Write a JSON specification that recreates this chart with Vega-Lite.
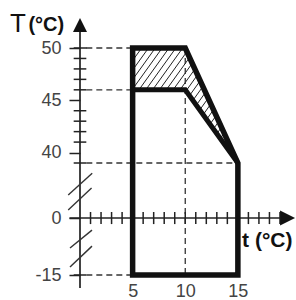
{
  "$schema": "https://vega.github.io/schema/vega-lite/v6.json",
  "width": 296,
  "height": 300,
  "padding": 0,
  "autosize": {"type": "none"},
  "background": "white",
  "config": {"view": {"stroke": null}},
  "datasets": {
    "hatch": [
      {"x": 5, "y": 48.8, "x2": 5.857, "y2": 50},
      {"x": 5, "y": 47.89, "x2": 6.507, "y2": 50},
      {"x": 5, "y": 46.98, "x2": 7.157, "y2": 50},
      {"x": 5, "y": 46.07, "x2": 7.807, "y2": 50},
      {"x": 5.6, "y": 46, "x2": 8.457, "y2": 50},
      {"x": 6.25, "y": 46, "x2": 9.107, "y2": 50},
      {"x": 6.9, "y": 46, "x2": 9.757, "y2": 50},
      {"x": 7.55, "y": 46, "x2": 10.158, "y2": 49.652},
      {"x": 8.2, "y": 46, "x2": 10.411, "y2": 49.096},
      {"x": 8.85, "y": 46, "x2": 10.664, "y2": 48.539},
      {"x": 9.5, "y": 46, "x2": 10.917, "y2": 47.983},
      {"x": 10.075, "y": 45.895, "x2": 11.169, "y2": 47.428},
      {"x": 10.4, "y": 45.44, "x2": 11.422, "y2": 46.871},
      {"x": 10.725, "y": 44.985, "x2": 11.675, "y2": 46.315},
      {"x": 11.05, "y": 44.53, "x2": 11.928, "y2": 45.759},
      {"x": 11.375, "y": 44.075, "x2": 12.181, "y2": 45.202},
      {"x": 11.7, "y": 43.62, "x2": 12.433, "y2": 44.647},
      {"x": 12.025, "y": 43.165, "x2": 12.686, "y2": 44.091},
      {"x": 12.35, "y": 42.71, "x2": 12.939, "y2": 43.534},
      {"x": 12.675, "y": 42.255, "x2": 13.192, "y2": 42.978},
      {"x": 13.0, "y": 41.8, "x2": 13.444, "y2": 42.422},
      {"x": 13.325, "y": 41.345, "x2": 13.697, "y2": 41.866},
      {"x": 13.65, "y": 40.89, "x2": 13.95, "y2": 41.31},
      {"x": 13.975, "y": 40.435, "x2": 14.203, "y2": 40.753}
    ],
    "dashed": [
      {"x": 0.6, "y": 50, "x2": 5, "y2": 50},
      {"x": 0.6, "y": 46, "x2": 5, "y2": 46},
      {"x": 0.6, "y": 39, "x2": 15, "y2": 39},
      {"x": 0.6, "y": -15, "x2": 5, "y2": -15},
      {"x": 10, "y": 50, "x2": 10, "y2": -15}
    ],
    "axes": [
      {"x": 0, "y": -18.4, "x2": 0, "y2": 51.6},
      {"x": -1, "y": 0, "x2": 19, "y2": 0}
    ],
    "ticks": [
      {"x": -0.6, "x2": 0.65, "y": 50, "y2": 50},
      {"x": -0.6, "x2": 0.6, "y": 49, "y2": 49},
      {"x": -0.6, "x2": 0.6, "y": 48, "y2": 48},
      {"x": -0.6, "x2": 0.6, "y": 47, "y2": 47},
      {"x": -0.6, "x2": 0.6, "y": 46, "y2": 46},
      {"x": -0.6, "x2": 0.6, "y": 44, "y2": 44},
      {"x": -0.6, "x2": 0.6, "y": 43, "y2": 43},
      {"x": -0.6, "x2": 0.6, "y": 42, "y2": 42},
      {"x": -0.6, "x2": 0.6, "y": 41, "y2": 41},
      {"x": -0.6, "x2": 0.6, "y": 39, "y2": 39},
      {"x": -0.6, "x2": 0.6, "y": -15, "y2": -15},
      {"x": 1, "x2": 1, "y": -1.6, "y2": 4.25},
      {"x": 2, "x2": 2, "y": -1.6, "y2": 4.25},
      {"x": 3, "x2": 3, "y": -1.6, "y2": 4.25},
      {"x": 4, "x2": 4, "y": -1.6, "y2": 4.25},
      {"x": 5, "x2": 5, "y": -1.6, "y2": 4.25},
      {"x": 6, "x2": 6, "y": -1.6, "y2": 4.25},
      {"x": 7, "x2": 7, "y": -1.6, "y2": 4.25},
      {"x": 8, "x2": 8, "y": -1.6, "y2": 4.25},
      {"x": 9, "x2": 9, "y": -1.6, "y2": 4.25},
      {"x": 10, "x2": 10, "y": -1.6, "y2": 4.25},
      {"x": 11, "x2": 11, "y": -1.6, "y2": 4.25},
      {"x": 12, "x2": 12, "y": -1.6, "y2": 4.25},
      {"x": 13, "x2": 13, "y": -1.6, "y2": 4.25},
      {"x": 14, "x2": 14, "y": -1.6, "y2": 4.25},
      {"x": 15, "x2": 15, "y": -1.6, "y2": 4.25},
      {"x": 16, "x2": 16, "y": -1.6, "y2": 4.25},
      {"x": 17, "x2": 17, "y": -1.6, "y2": 4.25},
      {"x": 18, "x2": 18, "y": -1.6, "y2": 4.25},
      {"x": 19, "x2": 19, "y": -1.6, "y2": 4.25}
    ],
    "breaks": [
      {"x": -1.12, "y": 16.3, "x2": 1.16, "y2": 31.8},
      {"x": -1.12, "y": 5.7, "x2": 1.1, "y2": 21.2},
      {"x": -0.95, "y": -7.9, "x2": 1.14, "y2": -3.2},
      {"x": -0.95, "y": -12.9, "x2": 1.14, "y2": -7.4}
    ],
    "outer": [
      {"x": 5, "y": 50, "o": 1},
      {"x": 10, "y": 50, "o": 2},
      {"x": 15, "y": 39, "o": 3},
      {"x": 15, "y": -15, "o": 4},
      {"x": 5, "y": -15, "o": 5},
      {"x": 5, "y": 50, "o": 6}
    ],
    "inner": [
      {"x": 5, "y": 46, "o": 1},
      {"x": 10, "y": 46, "o": 2},
      {"x": 15, "y": 39, "o": 3}
    ],
    "arrowUp": [{"x": 0, "y": 52.2}],
    "arrowRight": [{"x": 19.72, "y": 0}],
    "titleT": [{"x": -6.65, "y": 51.53, "t": "T"}],
    "titleTUnit": [{"x": -4.9, "y": 51.63, "t": "(°C)"}],
    "titlet": [{"x": 15.4, "y": -7.63, "t": "t (°C)"}]
  },
  "encoding": {
    "x": {
      "field": "x",
      "type": "quantitative",
      "scale": {"domain": [0, 20], "range": [80, 290.5], "nice": false, "zero": false},
      "axis": {
        "values": [5, 10, 15],
        "orient": "bottom",
        "domain": false,
        "ticks": false,
        "tickSize": 0,
        "grid": false,
        "title": null,
        "labelFont": "Liberation Sans",
        "labelFontSize": 18,
        "labelColor": "#444",
        "labelPadding": -4,
        "labelBaseline": "alphabetic",
        "labelFlush": false,
        "labelOverlap": false
      }
    },
    "y": {
      "field": "y",
      "type": "quantitative",
      "scale": {"domain": [-15, 0, 39, 50], "range": [275, 218, 163, 48], "nice": false, "zero": false},
      "axis": {
        "values": [50, 45, 40, 0, -15],
        "orient": "left",
        "offset": -80,
        "domain": false,
        "tickSize": 11,
        "tickColor": "#222",
        "tickWidth": 1.5,
        "grid": false,
        "title": null,
        "labelFont": "Liberation Sans",
        "labelFontSize": 18,
        "labelColor": "#444",
        "labelPadding": 8,
        "labelFlush": false,
        "labelOverlap": false,
        "labelExpr": "replace(datum.label, '\u2212', '-')"
      }
    }
  },
  "layer": [
    {
      "data": {"name": "hatch"},
      "mark": {"type": "rule", "color": "#222", "strokeWidth": 1},
      "encoding": {"x2": {"field": "x2"}, "y2": {"field": "y2"}}
    },
    {
      "data": {"name": "dashed"},
      "mark": {"type": "rule", "color": "#333", "strokeWidth": 1.3, "strokeDash": [6, 4]},
      "encoding": {"x2": {"field": "x2"}, "y2": {"field": "y2"}}
    },
    {
      "data": {"name": "axes"},
      "mark": {"type": "rule", "color": "#222", "strokeWidth": 1.7},
      "encoding": {"x2": {"field": "x2"}, "y2": {"field": "y2"}}
    },
    {
      "data": {"name": "ticks"},
      "mark": {"type": "rule", "color": "#222", "strokeWidth": 1.5},
      "encoding": {"x2": {"field": "x2"}, "y2": {"field": "y2"}}
    },
    {
      "data": {"name": "breaks"},
      "mark": {"type": "rule", "color": "#333", "strokeWidth": 1.4},
      "encoding": {"x2": {"field": "x2"}, "y2": {"field": "y2"}}
    },
    {
      "data": {"name": "outer"},
      "mark": {"type": "line", "color": "#111", "strokeWidth": 5.5, "strokeJoin": "miter", "strokeCap": "square"},
      "encoding": {"order": {"field": "o"}}
    },
    {
      "data": {"name": "inner"},
      "mark": {"type": "line", "color": "#111", "strokeWidth": 5, "strokeJoin": "miter", "strokeCap": "butt"},
      "encoding": {"order": {"field": "o"}}
    },
    {
      "data": {"name": "arrowUp"},
      "mark": {"type": "point", "shape": "M0,-1L1,1L-1,1Z", "filled": true, "color": "#111", "opacity": 1, "size": 196}
    },
    {
      "data": {"name": "arrowRight"},
      "mark": {"type": "point", "shape": "M1,0L-1,-1L-1,1Z", "filled": true, "color": "#111", "opacity": 1, "size": 225}
    },
    {
      "data": {"name": "titleT"},
      "mark": {"type": "text", "font": "Liberation Sans", "fontSize": 26, "align": "left", "baseline": "alphabetic", "color": "#111"},
      "encoding": {"text": {"field": "t"}}
    },
    {
      "data": {"name": "titleTUnit"},
      "mark": {"type": "text", "font": "Liberation Sans", "fontSize": 20, "fontWeight": "bold", "align": "left", "baseline": "alphabetic", "color": "#111"},
      "encoding": {"text": {"field": "t"}}
    },
    {
      "data": {"name": "titlet"},
      "mark": {"type": "text", "font": "Liberation Sans", "fontSize": 21, "fontWeight": "bold", "align": "left", "baseline": "alphabetic", "color": "#111"},
      "encoding": {"text": {"field": "t"}}
    }
  ]
}
